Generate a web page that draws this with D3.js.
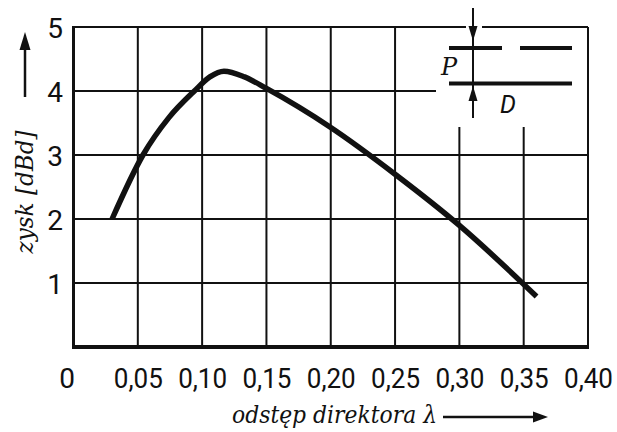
<!DOCTYPE html>
<html>
<head>
<meta charset="utf-8">
<script src="https://cdn.jsdelivr.net/npm/d3@7"></script>
<style>
  html, body { margin: 0; padding: 0; background: #fff; }
  svg { display: block; }
</style>
</head>
<body>
<svg id="chart" width="617" height="432"></svg>
<script>
// ---- data ----
const xTicks = [0, 0.05, 0.10, 0.15, 0.20, 0.25, 0.30, 0.35, 0.40];
const xTickLabels = ["0", "0,05", "0,10", "0,15", "0,20", "0,25", "0,30", "0,35", "0,40"];
const yTicks = [0, 1, 2, 3, 4, 5];
const yTickLabels = ["", "1", "2", "3", "4", "5"];
const distance = [0.030, 0.054, 0.074, 0.094, 0.106, 0.117, 0.133, 0.150, 0.200, 0.250, 0.300, 0.360];
const gain     = [2.00, 3.00, 3.58, 4.00, 4.22, 4.31, 4.22, 4.04, 3.43, 2.70, 1.90, 0.79];
const yTitle = "zysk [dBd]";
const xTitle = "odstęp direktora λ";

// ---- layout ----
const SANS = "Roboto";
const SERIF = "DejaVu Serif";
const L = 73.5, R = 588, T = 27, B = 347;
const svg = d3.select("#chart");
const x = d3.scaleLinear().domain([0, 0.4]).range([L, R]);
const y = d3.scaleLinear().domain([0, 5]).range([B, T]);

const ink = "#111";
const grid = svg.append("g").attr("stroke", ink).attr("stroke-width", 2).attr("fill", "none");

// vertical grid lines (0.30 and 0.35 are cut short by the inset)
const insetBottom = 127;
xTicks.slice(1, -1).forEach(v => {
  const top = (v >= 0.30) ? insetBottom : T;
  grid.append("line").attr("x1", x(v)).attr("x2", x(v)).attr("y1", top).attr("y2", B);
});
// horizontal grid lines (4 is cut short by the inset)
yTicks.slice(1, -1).forEach(v => {
  const right = (v === 4) ? 436 : R;
  grid.append("line").attr("x1", L).attr("x2", right).attr("y1", y(v)).attr("y2", y(v));
});
// top border with gap for arrow
grid.append("line").attr("x1", L).attr("x2", 466).attr("y1", T).attr("y2", T);
grid.append("line").attr("x1", 482).attr("x2", R).attr("y1", T).attr("y2", T);
// right border
grid.append("line").attr("x1", R).attr("x2", R).attr("y1", T).attr("y2", B);
// left & bottom borders (heavier)
svg.append("line").attr("x1", L).attr("x2", L).attr("y1", T - 1).attr("y2", B + 1)
  .attr("stroke", ink).attr("stroke-width", 3);
svg.append("line").attr("x1", L - 1.5).attr("x2", R + 1).attr("y1", B).attr("y2", B)
  .attr("stroke", ink).attr("stroke-width", 4);

// ---- tick labels via d3 axes ----
const xAxis = d3.axisBottom(x).tickValues(xTicks)
  .tickFormat((d, i) => xTickLabels[i]).tickSize(0).tickPadding(0);
const gx = svg.append("g").call(xAxis);
gx.select(".domain").remove();
gx.attr("font-family", SANS).attr("font-size", 28);
gx.selectAll("text")
  .attr("y", 388).attr("dy", null)
  .attr("font-family", SANS)
  .attr("font-size", 28).attr("fill", ink)
  .each(function(d, i) {
    if (xTickLabels[i].length > 1) {
      d3.select(this).attr("textLength", 49).attr("lengthAdjust", "spacingAndGlyphs");
    }
  });
gx.selectAll(".tick").filter(d => d === 0).select("text").attr("x", -7);

const yAxis = d3.axisLeft(y).tickValues(yTicks.slice(1))
  .tickFormat(d => yTickLabels[yTicks.indexOf(d)]).tickSize(0).tickPadding(0);
const gy = svg.append("g").call(yAxis);
gy.select(".domain").remove();
gy.attr("font-family", SANS).attr("font-size", 28);
gy.selectAll("text")
  .attr("x", 63).attr("dy", 10)
  .attr("text-anchor", "end")
  .attr("font-family", SANS)
  .attr("font-size", 28).attr("fill", ink);

// ---- curve ----
const pts = distance.map((d, i) => [d, gain[i]]);
const line = d3.line().x(d => x(d[0])).y(d => y(d[1])).curve(d3.curveMonotoneX);
svg.append("path").datum(pts).attr("d", line)
  .attr("fill", "none").attr("stroke", ink).attr("stroke-width", 5.5)
  .attr("stroke-linejoin", "round").attr("stroke-linecap", "butt");

// ---- titles ----
svg.append("text").text(yTitle)
  .attr("font-family", SERIF).attr("font-style", "italic")
  .attr("transform", "translate(33,192) rotate(-90)")
  .attr("text-anchor", "middle")
  .attr("font-size", 24).attr("fill", ink)
  .attr("textLength", 123).attr("lengthAdjust", "spacingAndGlyphs");

svg.append("text").text(xTitle)
  .attr("font-family", SERIF).attr("font-style", "italic")
  .attr("x", 232).attr("y", 423)
  .attr("font-size", 24).attr("fill", ink)
  .attr("textLength", 205).attr("lengthAdjust", "spacingAndGlyphs");

// arrows
svg.append("line").attr("x1", 443).attr("x2", 536).attr("y1", 417).attr("y2", 417)
  .attr("stroke", ink).attr("stroke-width", 2.5);
svg.append("path").attr("d", "M548,417 L533,411.5 L533,422.5 Z").attr("fill", ink);

svg.append("line").attr("x1", 25).attr("x2", 25).attr("y1", 97).attr("y2", 46)
  .attr("stroke", ink).attr("stroke-width", 2.5);
svg.append("path").attr("d", "M25,32 L19.5,50 L30.5,50 Z").attr("fill", ink);

// ---- inset (director / dipole spacing) ----
const inset = svg.append("g").attr("stroke", ink);
inset.append("line").attr("x1", 473).attr("x2", 473).attr("y1", 8).attr("y2", 118).attr("stroke-width", 2);
inset.append("path").attr("d", "M473,41 L468.5,26 L477.5,26 Z").attr("fill", ink).attr("stroke", "none");
inset.append("path").attr("d", "M473,86 L468.5,101 L477.5,101 Z").attr("fill", ink).attr("stroke", "none");
inset.append("line").attr("x1", 449).attr("x2", 502).attr("y1", 48).attr("y2", 48).attr("stroke-width", 4);
inset.append("line").attr("x1", 520).attr("x2", 572).attr("y1", 48).attr("y2", 48).attr("stroke-width", 4);
inset.append("line").attr("x1", 449).attr("x2", 572).attr("y1", 83.5).attr("y2", 83.5).attr("stroke-width", 4);
svg.append("text").text("P").attr("font-family", SERIF).attr("font-style", "italic")
  .attr("x", 441).attr("y", 75).attr("font-size", 24).attr("fill", ink);
svg.append("text").text("D").attr("font-family", SANS).attr("font-style", "italic")
  .attr("x", 500).attr("y", 113).attr("font-size", 25).attr("fill", ink);
</script>
</body>
</html>
